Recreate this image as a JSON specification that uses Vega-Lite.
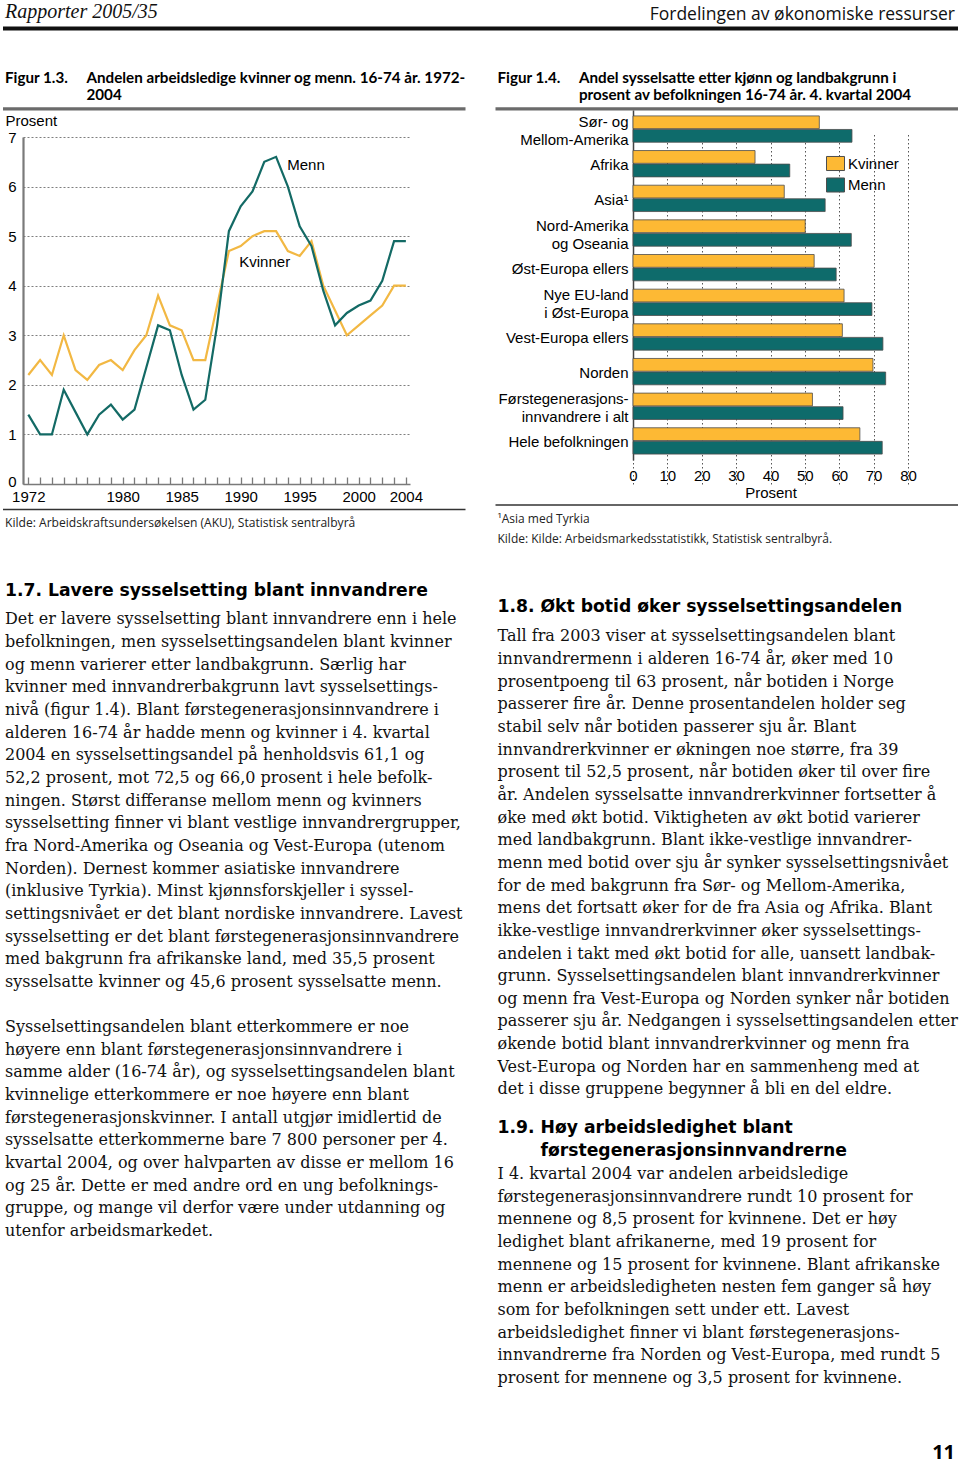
{
  "$schema": "https://vega.github.io/schema/vega-lite/v6.json",
  "padding": 0,
  "bounds": "flush",
  "spacing": 0,
  "config": {
    "view": {"stroke": null},
    "font": "Liberation Sans"
  },
  "datasets": {
    "arbeidsledige": [
      {"år": 1972, "kjønn": "Kvinner", "prosent": 2.2}, {"år": 1973, "kjønn": "Kvinner", "prosent": 2.5},
      {"år": 1974, "kjønn": "Kvinner", "prosent": 2.2}, {"år": 1975, "kjønn": "Kvinner", "prosent": 3.0},
      {"år": 1976, "kjønn": "Kvinner", "prosent": 2.3}, {"år": 1977, "kjønn": "Kvinner", "prosent": 2.1},
      {"år": 1978, "kjønn": "Kvinner", "prosent": 2.4}, {"år": 1979, "kjønn": "Kvinner", "prosent": 2.5},
      {"år": 1980, "kjønn": "Kvinner", "prosent": 2.3}, {"år": 1981, "kjønn": "Kvinner", "prosent": 2.7},
      {"år": 1982, "kjønn": "Kvinner", "prosent": 3.0}, {"år": 1983, "kjønn": "Kvinner", "prosent": 3.8},
      {"år": 1984, "kjønn": "Kvinner", "prosent": 3.2}, {"år": 1985, "kjønn": "Kvinner", "prosent": 3.1},
      {"år": 1986, "kjønn": "Kvinner", "prosent": 2.5}, {"år": 1987, "kjønn": "Kvinner", "prosent": 2.5},
      {"år": 1988, "kjønn": "Kvinner", "prosent": 3.6}, {"år": 1989, "kjønn": "Kvinner", "prosent": 4.7},
      {"år": 1990, "kjønn": "Kvinner", "prosent": 4.8}, {"år": 1991, "kjønn": "Kvinner", "prosent": 5.0},
      {"år": 1992, "kjønn": "Kvinner", "prosent": 5.1}, {"år": 1993, "kjønn": "Kvinner", "prosent": 5.1},
      {"år": 1994, "kjønn": "Kvinner", "prosent": 4.7}, {"år": 1995, "kjønn": "Kvinner", "prosent": 4.6},
      {"år": 1996, "kjønn": "Kvinner", "prosent": 4.9}, {"år": 1997, "kjønn": "Kvinner", "prosent": 4.0},
      {"år": 1998, "kjønn": "Kvinner", "prosent": 3.5}, {"år": 1999, "kjønn": "Kvinner", "prosent": 3.0},
      {"år": 2000, "kjønn": "Kvinner", "prosent": 3.2}, {"år": 2001, "kjønn": "Kvinner", "prosent": 3.4},
      {"år": 2002, "kjønn": "Kvinner", "prosent": 3.6}, {"år": 2003, "kjønn": "Kvinner", "prosent": 4.0},
      {"år": 2004, "kjønn": "Kvinner", "prosent": 4.0},
      {"år": 1972, "kjønn": "Menn", "prosent": 1.4}, {"år": 1973, "kjønn": "Menn", "prosent": 1.0},
      {"år": 1974, "kjønn": "Menn", "prosent": 1.0}, {"år": 1975, "kjønn": "Menn", "prosent": 1.9},
      {"år": 1976, "kjønn": "Menn", "prosent": 1.45}, {"år": 1977, "kjønn": "Menn", "prosent": 1.0},
      {"år": 1978, "kjønn": "Menn", "prosent": 1.4}, {"år": 1979, "kjønn": "Menn", "prosent": 1.6},
      {"år": 1980, "kjønn": "Menn", "prosent": 1.3}, {"år": 1981, "kjønn": "Menn", "prosent": 1.5},
      {"år": 1982, "kjønn": "Menn", "prosent": 2.35}, {"år": 1983, "kjønn": "Menn", "prosent": 3.2},
      {"år": 1984, "kjønn": "Menn", "prosent": 3.1}, {"år": 1985, "kjønn": "Menn", "prosent": 2.2},
      {"år": 1986, "kjønn": "Menn", "prosent": 1.5}, {"år": 1987, "kjønn": "Menn", "prosent": 1.7},
      {"år": 1988, "kjønn": "Menn", "prosent": 3.2}, {"år": 1989, "kjønn": "Menn", "prosent": 5.1},
      {"år": 1990, "kjønn": "Menn", "prosent": 5.6}, {"år": 1991, "kjønn": "Menn", "prosent": 5.9},
      {"år": 1992, "kjønn": "Menn", "prosent": 6.5}, {"år": 1993, "kjønn": "Menn", "prosent": 6.6},
      {"år": 1994, "kjønn": "Menn", "prosent": 6.0}, {"år": 1995, "kjønn": "Menn", "prosent": 5.2},
      {"år": 1996, "kjønn": "Menn", "prosent": 4.8}, {"år": 1997, "kjønn": "Menn", "prosent": 3.9},
      {"år": 1998, "kjønn": "Menn", "prosent": 3.2}, {"år": 1999, "kjønn": "Menn", "prosent": 3.45},
      {"år": 2000, "kjønn": "Menn", "prosent": 3.6}, {"år": 2001, "kjønn": "Menn", "prosent": 3.7},
      {"år": 2002, "kjønn": "Menn", "prosent": 4.1}, {"år": 2003, "kjønn": "Menn", "prosent": 4.9},
      {"år": 2004, "kjønn": "Menn", "prosent": 4.9}
    ],
    "sysselsatte": [
      {"landbakgrunn": "Sør- og Mellom-Amerika", "kjønn": "Kvinner", "prosent": 54.2},
      {"landbakgrunn": "Sør- og Mellom-Amerika", "kjønn": "Menn", "prosent": 63.7},
      {"landbakgrunn": "Afrika", "kjønn": "Kvinner", "prosent": 35.5},
      {"landbakgrunn": "Afrika", "kjønn": "Menn", "prosent": 45.6},
      {"landbakgrunn": "Asia", "kjønn": "Kvinner", "prosent": 44.0},
      {"landbakgrunn": "Asia", "kjønn": "Menn", "prosent": 55.9},
      {"landbakgrunn": "Nord-Amerika og Oseania", "kjønn": "Kvinner", "prosent": 50.1},
      {"landbakgrunn": "Nord-Amerika og Oseania", "kjønn": "Menn", "prosent": 63.5},
      {"landbakgrunn": "Øst-Europa ellers", "kjønn": "Kvinner", "prosent": 52.7},
      {"landbakgrunn": "Øst-Europa ellers", "kjønn": "Menn", "prosent": 59.1},
      {"landbakgrunn": "Nye EU-land i Øst-Europa", "kjønn": "Kvinner", "prosent": 61.4},
      {"landbakgrunn": "Nye EU-land i Øst-Europa", "kjønn": "Menn", "prosent": 69.5},
      {"landbakgrunn": "Vest-Europa ellers", "kjønn": "Kvinner", "prosent": 60.9},
      {"landbakgrunn": "Vest-Europa ellers", "kjønn": "Menn", "prosent": 72.7},
      {"landbakgrunn": "Norden", "kjønn": "Kvinner", "prosent": 69.8},
      {"landbakgrunn": "Norden", "kjønn": "Menn", "prosent": 73.5},
      {"landbakgrunn": "Førstegenerasjonsinnvandrere i alt", "kjønn": "Kvinner", "prosent": 52.2},
      {"landbakgrunn": "Førstegenerasjonsinnvandrere i alt", "kjønn": "Menn", "prosent": 61.1},
      {"landbakgrunn": "Hele befolkningen", "kjønn": "Kvinner", "prosent": 66.0},
      {"landbakgrunn": "Hele befolkningen", "kjønn": "Menn", "prosent": 72.5}
    ],
    "topp": [
      {"kolonne": "venstre", "linje": 0, "del": "topptekst", "tekst": "Rapporter 2005/35"},
      {"kolonne": "høyre", "linje": 0, "del": "topptekst", "tekst": "Fordelingen av økonomiske ressurser"},
      {"kolonne": "hele", "linje": 0, "del": "sidestrek", "tekst": ""},
      {"kolonne": "venstre", "linje": 1, "del": "figurnummer", "tekst": "Figur 1.3."},
      {"kolonne": "venstre", "linje": 1, "del": "figurtittel", "tekst": "Andelen arbeidsledige kvinner og menn. 16-74 år. 1972-"},
      {"kolonne": "venstre", "linje": 2, "del": "figurtittel", "tekst": "2004"},
      {"kolonne": "høyre", "linje": 1, "del": "figurnummer", "tekst": "Figur 1.4."},
      {"kolonne": "høyre", "linje": 1, "del": "figurtittel", "tekst": "Andel sysselsatte etter kjønn og landbakgrunn i"},
      {"kolonne": "høyre", "linje": 2, "del": "figurtittel", "tekst": "prosent av befolkningen 16-74 år. 4. kvartal 2004"},
      {"kolonne": "venstre", "linje": 3, "del": "figurstrek", "tekst": ""},
      {"kolonne": "høyre", "linje": 3, "del": "figurstrek", "tekst": ""}
    ],
    "bunn": [
      {"kolonne": "venstre", "linje": 0, "del": "strek", "tekst": ""},
      {"kolonne": "høyre", "linje": 0, "del": "strek", "tekst": ""},
      {"kolonne": "venstre", "linje": 1, "del": "kilde", "tekst": "Kilde: Arbeidskraftsundersøkelsen (AKU), Statistisk sentralbyrå"},
      {"kolonne": "høyre", "linje": 1, "del": "kilde", "tekst": "¹Asia med Tyrkia"},
      {"kolonne": "høyre", "linje": 2, "del": "kilde", "tekst": "Kilde: Kilde: Arbeidsmarkedsstatistikk, Statistisk sentralbyrå."}
    ],
    "brodtekst": [
      {"kolonne": "venstre", "linje": 0, "type": "nr", "tekst": "1.7."},
      {"kolonne": "venstre", "linje": 0, "type": "overskrift", "tekst": "Lavere sysselsetting blant innvandrere"},
      {"kolonne": "venstre", "linje": 1, "type": "avsnitt", "tekst": "Det er lavere sysselsetting blant innvandrere enn i hele"},
      {"kolonne": "venstre", "linje": 2, "type": "avsnitt", "tekst": "befolkningen, men sysselsettingsandelen blant kvinner"},
      {"kolonne": "venstre", "linje": 3, "type": "avsnitt", "tekst": "og menn varierer etter landbakgrunn. Særlig har"},
      {"kolonne": "venstre", "linje": 4, "type": "avsnitt", "tekst": "kvinner med innvandrerbakgrunn lavt sysselsettings-"},
      {"kolonne": "venstre", "linje": 5, "type": "avsnitt", "tekst": "nivå (figur 1.4). Blant førstegenerasjonsinnvandrere i"},
      {"kolonne": "venstre", "linje": 6, "type": "avsnitt", "tekst": "alderen 16-74 år hadde menn og kvinner i 4. kvartal"},
      {"kolonne": "venstre", "linje": 7, "type": "avsnitt", "tekst": "2004 en sysselsettingsandel på henholdsvis 61,1 og"},
      {"kolonne": "venstre", "linje": 8, "type": "avsnitt", "tekst": "52,2 prosent, mot 72,5 og 66,0 prosent i hele befolk-"},
      {"kolonne": "venstre", "linje": 9, "type": "avsnitt", "tekst": "ningen. Størst differanse mellom menn og kvinners"},
      {"kolonne": "venstre", "linje": 10, "type": "avsnitt", "tekst": "sysselsetting finner vi blant vestlige innvandrergrupper,"},
      {"kolonne": "venstre", "linje": 11, "type": "avsnitt", "tekst": "fra Nord-Amerika og Oseania og Vest-Europa (utenom"},
      {"kolonne": "venstre", "linje": 12, "type": "avsnitt", "tekst": "Norden). Dernest kommer asiatiske innvandrere"},
      {"kolonne": "venstre", "linje": 13, "type": "avsnitt", "tekst": "(inklusive Tyrkia). Minst kjønnsforskjeller i syssel-"},
      {"kolonne": "venstre", "linje": 14, "type": "avsnitt", "tekst": "settingsnivået er det blant nordiske innvandrere. Lavest"},
      {"kolonne": "venstre", "linje": 15, "type": "avsnitt", "tekst": "sysselsetting er det blant førstegenerasjonsinnvandrere"},
      {"kolonne": "venstre", "linje": 16, "type": "avsnitt", "tekst": "med bakgrunn fra afrikanske land, med 35,5 prosent"},
      {"kolonne": "venstre", "linje": 17, "type": "avsnitt", "tekst": "sysselsatte kvinner og 45,6 prosent sysselsatte menn."},
      {"kolonne": "venstre", "linje": 19, "type": "avsnitt", "tekst": "Sysselsettingsandelen blant etterkommere er noe"},
      {"kolonne": "venstre", "linje": 20, "type": "avsnitt", "tekst": "høyere enn blant førstegenerasjonsinnvandrere i"},
      {"kolonne": "venstre", "linje": 21, "type": "avsnitt", "tekst": "samme alder (16-74 år), og sysselsettingsandelen blant"},
      {"kolonne": "venstre", "linje": 22, "type": "avsnitt", "tekst": "kvinnelige etterkommere er noe høyere enn blant"},
      {"kolonne": "venstre", "linje": 23, "type": "avsnitt", "tekst": "førstegenerasjonskvinner. I antall utgjør imidlertid de"},
      {"kolonne": "venstre", "linje": 24, "type": "avsnitt", "tekst": "sysselsatte etterkommerne bare 7 800 personer per 4."},
      {"kolonne": "venstre", "linje": 25, "type": "avsnitt", "tekst": "kvartal 2004, og over halvparten av disse er mellom 16"},
      {"kolonne": "venstre", "linje": 26, "type": "avsnitt", "tekst": "og 25 år. Dette er med andre ord en ung befolknings-"},
      {"kolonne": "venstre", "linje": 27, "type": "avsnitt", "tekst": "gruppe, og mange vil derfor være under utdanning og"},
      {"kolonne": "venstre", "linje": 28, "type": "avsnitt", "tekst": "utenfor arbeidsmarkedet."},
      {"kolonne": "høyre", "linje": 0, "type": "nr", "tekst": "1.8."},
      {"kolonne": "høyre", "linje": 0, "type": "overskrift", "tekst": "Økt botid øker sysselsettingsandelen"},
      {"kolonne": "høyre", "linje": 1, "type": "avsnitt", "tekst": "Tall fra 2003 viser at sysselsettingsandelen blant"},
      {"kolonne": "høyre", "linje": 2, "type": "avsnitt", "tekst": "innvandrermenn i alderen 16-74 år, øker med 10"},
      {"kolonne": "høyre", "linje": 3, "type": "avsnitt", "tekst": "prosentpoeng til 63 prosent, når botiden i Norge"},
      {"kolonne": "høyre", "linje": 4, "type": "avsnitt", "tekst": "passerer fire år. Denne prosentandelen holder seg"},
      {"kolonne": "høyre", "linje": 5, "type": "avsnitt", "tekst": "stabil selv når botiden passerer sju år. Blant"},
      {"kolonne": "høyre", "linje": 6, "type": "avsnitt", "tekst": "innvandrerkvinner er økningen noe større, fra 39"},
      {"kolonne": "høyre", "linje": 7, "type": "avsnitt", "tekst": "prosent til 52,5 prosent, når botiden øker til over fire"},
      {"kolonne": "høyre", "linje": 8, "type": "avsnitt", "tekst": "år. Andelen sysselsatte innvandrerkvinner fortsetter å"},
      {"kolonne": "høyre", "linje": 9, "type": "avsnitt", "tekst": "øke med økt botid. Viktigheten av økt botid varierer"},
      {"kolonne": "høyre", "linje": 10, "type": "avsnitt", "tekst": "med landbakgrunn. Blant ikke-vestlige innvandrer-"},
      {"kolonne": "høyre", "linje": 11, "type": "avsnitt", "tekst": "menn med botid over sju år synker sysselsettingsnivået"},
      {"kolonne": "høyre", "linje": 12, "type": "avsnitt", "tekst": "for de med bakgrunn fra Sør- og Mellom-Amerika,"},
      {"kolonne": "høyre", "linje": 13, "type": "avsnitt", "tekst": "mens det fortsatt øker for de fra Asia og Afrika. Blant"},
      {"kolonne": "høyre", "linje": 14, "type": "avsnitt", "tekst": "ikke-vestlige innvandrerkvinner øker sysselsettings-"},
      {"kolonne": "høyre", "linje": 15, "type": "avsnitt", "tekst": "andelen i takt med økt botid for alle, uansett landbak-"},
      {"kolonne": "høyre", "linje": 16, "type": "avsnitt", "tekst": "grunn. Sysselsettingsandelen blant innvandrerkvinner"},
      {"kolonne": "høyre", "linje": 17, "type": "avsnitt", "tekst": "og menn fra Vest-Europa og Norden synker når botiden"},
      {"kolonne": "høyre", "linje": 18, "type": "avsnitt", "tekst": "passerer sju år. Nedgangen i sysselsettingsandelen etter"},
      {"kolonne": "høyre", "linje": 19, "type": "avsnitt", "tekst": "økende botid blant innvandrerkvinner og menn fra"},
      {"kolonne": "høyre", "linje": 20, "type": "avsnitt", "tekst": "Vest-Europa og Norden har en sammenheng med at"},
      {"kolonne": "høyre", "linje": 21, "type": "avsnitt", "tekst": "det i disse gruppene begynner å bli en del eldre."},
      {"kolonne": "høyre", "linje": 23, "type": "nr", "tekst": "1.9."},
      {"kolonne": "høyre", "linje": 23, "type": "overskrift", "tekst": "Høy arbeidsledighet blant"},
      {"kolonne": "høyre", "linje": 24, "type": "overskrift", "tekst": "førstegenerasjonsinnvandrerne"},
      {"kolonne": "høyre", "linje": 25, "type": "avsnitt", "tekst": "I 4. kvartal 2004 var andelen arbeidsledige"},
      {"kolonne": "høyre", "linje": 26, "type": "avsnitt", "tekst": "førstegenerasjonsinnvandrere rundt 10 prosent for"},
      {"kolonne": "høyre", "linje": 27, "type": "avsnitt", "tekst": "mennene og 8,5 prosent for kvinnene. Det er høy"},
      {"kolonne": "høyre", "linje": 28, "type": "avsnitt", "tekst": "ledighet blant afrikanerne, med 19 prosent for"},
      {"kolonne": "høyre", "linje": 29, "type": "avsnitt", "tekst": "mennene og 15 prosent for kvinnene. Blant afrikanske"},
      {"kolonne": "høyre", "linje": 30, "type": "avsnitt", "tekst": "menn er arbeidsledigheten nesten fem ganger så høy"},
      {"kolonne": "høyre", "linje": 31, "type": "avsnitt", "tekst": "som for befolkningen sett under ett. Lavest"},
      {"kolonne": "høyre", "linje": 32, "type": "avsnitt", "tekst": "arbeidsledighet finner vi blant førstegenerasjons-"},
      {"kolonne": "høyre", "linje": 33, "type": "avsnitt", "tekst": "innvandrerne fra Norden og Vest-Europa, med rundt 5"},
      {"kolonne": "høyre", "linje": 34, "type": "avsnitt", "tekst": "prosent for mennene og 3,5 prosent for kvinnene."}
    ]
  },
  "vconcat": [
    {
      "width": 960,
      "height": 110,
      "data": {"name": "topp"},
      "resolve": {"scale": {"x": "independent", "y": "independent"}},
      "layer": [
        {
          "transform": [{"filter": "datum.del == 'topptekst' && datum.kolonne == 'venstre'"}],
          "mark": {"type": "text", "align": "left", "baseline": "alphabetic", "dx": 2, "font": "Liberation Serif", "fontStyle": "italic", "fontSize": 20, "color": "#111"},
          "encoding": {
            "x": {"field": "kolonne", "type": "nominal", "bandPosition": 0, "scale": {"type": "band", "domain": ["venstre", "høyre"], "range": [3, 958], "paddingInner": 0.0609, "paddingOuter": 0}, "axis": null},
            "y": {"field": "linje", "type": "quantitative", "scale": {"domain": [0, 1], "range": [18.3, 19.3]}, "axis": null},
            "text": {"field": "tekst"}
          }
        },
        {
          "transform": [{"filter": "datum.del == 'topptekst' && datum.kolonne == 'høyre'"}],
          "mark": {"type": "text", "align": "right", "baseline": "alphabetic", "dx": -3, "font": "Open Sans", "fontSize": 17.5, "color": "#111"},
          "encoding": {
            "x": {"field": "kolonne", "type": "nominal", "bandPosition": 1, "scale": {"type": "band", "domain": ["venstre", "høyre"], "range": [3, 958], "paddingInner": 0.0609, "paddingOuter": 0}, "axis": null},
            "y": {"field": "linje", "type": "quantitative", "scale": {"domain": [0, 1], "range": [19.5, 20.5]}, "axis": null},
            "text": {"field": "tekst"}
          }
        },
        {
          "transform": [{"filter": "datum.del == 'sidestrek'"}],
          "mark": {"type": "tick", "orient": "horizontal", "size": 955, "thickness": 4, "color": "#111", "opacity": 1},
          "encoding": {
            "x": {"field": "kolonne", "type": "nominal", "bandPosition": 0.5, "scale": {"type": "band", "domain": ["hele"], "range": [3, 958], "paddingInner": 0, "paddingOuter": 0}, "axis": null},
            "y": {"field": "linje", "type": "quantitative", "scale": {"domain": [0, 1], "range": [28.6, 29.6]}, "axis": null}
          }
        },
        {
          "transform": [{"filter": "datum.del == 'figurnummer'"}],
          "mark": {"type": "text", "align": "left", "baseline": "alphabetic", "dx": 2, "font": "Lato", "fontWeight": "bold", "fontSize": 15.2, "color": "#000"},
          "encoding": {
            "x": {"field": "kolonne", "type": "nominal", "bandPosition": 0, "scale": {"type": "band", "domain": ["venstre", "høyre"], "range": [3, 958], "paddingInner": 0.0609, "paddingOuter": 0}, "axis": null},
            "y": {"field": "linje", "type": "quantitative", "scale": {"domain": [1, 2], "range": [82.7, 100.2]}, "axis": null},
            "text": {"field": "tekst"}
          }
        },
        {
          "transform": [{"filter": "datum.del == 'figurtittel'"}],
          "mark": {"type": "text", "align": "left", "baseline": "alphabetic", "dx": 83.5, "font": "Lato", "fontWeight": "bold", "fontSize": 15.2, "color": "#000"},
          "encoding": {
            "x": {"field": "kolonne", "type": "nominal", "bandPosition": 0, "scale": {"type": "band", "domain": ["venstre", "høyre"], "range": [3, 958], "paddingInner": 0.0609, "paddingOuter": 0}, "axis": null},
            "y": {"field": "linje", "type": "quantitative", "scale": {"domain": [1, 2], "range": [82.7, 100.2]}, "axis": null},
            "text": {"field": "tekst"}
          }
        },
        {
          "transform": [{"filter": "datum.del == 'figurstrek'"}],
          "mark": {"type": "tick", "orient": "horizontal", "size": 462.5, "thickness": 3.2, "color": "#6b6b6b", "opacity": 1},
          "encoding": {
            "x": {"field": "kolonne", "type": "nominal", "bandPosition": 0.5, "scale": {"type": "band", "domain": ["venstre", "høyre"], "range": [3, 958], "paddingInner": 0.0609, "paddingOuter": 0}, "axis": null},
            "y": {"field": "linje", "type": "quantitative", "scale": {"domain": [3, 4], "range": [108.8, 109.8]}, "axis": null}
          }
        }
      ]
    },
    {
      "width": 960,
      "height": 374,
      "resolve": {
        "scale": {"x": "independent", "y": "independent", "color": "independent"},
        "axis": {"x": "independent", "y": "independent"},
        "legend": {"color": "independent"}
      },
      "layer": [
        {
          "data": {"name": "arbeidsledige"},
          "mark": {"type": "line", "strokeWidth": 2.2},
          "encoding": {
            "x": {
              "field": "år", "type": "quantitative",
              "scale": {"domain": [1971.55, 2004.35], "range": [23, 410], "nice": false, "zero": false},
              "axis": {
                "orient": "bottom", "values": [1972, 1973, 1974, 1975, 1976, 1977, 1978, 1979, 1980, 1981, 1982, 1983, 1984, 1985, 1986, 1987, 1988, 1989, 1990, 1991, 1992, 1993, 1994, 1995, 1996, 1997, 1998, 1999, 2000, 2001, 2002, 2003, 2004],
                "format": "d",
                "labelExpr": "indexof([1972, 1980, 1985, 1990, 1995, 2000, 2004], datum.value) >= 0 ? datum.label : ''",
                "tickSize": -7, "tickColor": "#7a7a7a", "tickWidth": 1.3,
                "domainColor": "#7a7a7a", "domainWidth": 1.6,
                "labelPadding": 12.7, "labelFont": "Liberation Sans", "labelFontSize": 15, "labelColor": "#000",
                "labelOverlap": false, "labelFlush": false, "grid": false, "title": null
              }
            },
            "y": {
              "field": "prosent", "type": "quantitative",
              "scale": {"domain": [0, 7], "range": [374, 27], "nice": false},
              "axis": {
                "orient": "left", "offset": -23, "values": [0, 1, 2, 3, 4, 5, 6, 7],
                "grid": true, "gridDash": [2, 2], "gridColor": "#7f7f7f", "gridWidth": 1,
                "domainColor": "#7a7a7a", "domainWidth": 2.2, "ticks": false, "tickSize": 0,
                "labelPadding": 7, "labelFont": "Liberation Sans", "labelFontSize": 15, "labelColor": "#000",
                "labelOffset": {"condition": {"test": "datum.value == 0", "value": -3}, "value": 0},
                "title": "Prosent", "titleAngle": 0, "titleAlign": "left", "titleBaseline": "alphabetic",
                "titleX": -18, "titleY": 15, "titleFont": "Liberation Sans", "titleFontSize": 15,
                "titleFontWeight": "normal", "titleColor": "#000"
              }
            },
            "color": {"field": "kjønn", "type": "nominal", "scale": {"domain": ["Kvinner", "Menn"], "range": ["#F2B843", "#136A65"]}, "legend": null}
          }
        },
        {
          "data": {"name": "arbeidsledige"},
          "transform": [{"filter": "datum['kjønn'] == 'Menn' && datum['år'] == 1993"}],
          "mark": {"type": "text", "align": "left", "baseline": "alphabetic", "dx": 11.2, "dy": 13.2, "font": "Liberation Sans", "fontSize": 15, "color": "#000"},
          "encoding": {
            "x": {"field": "år", "type": "quantitative", "scale": {"domain": [1971.55, 2004.35], "range": [23, 410], "nice": false, "zero": false}, "axis": null},
            "y": {"field": "prosent", "type": "quantitative", "scale": {"domain": [0, 7], "range": [374, 27], "nice": false}, "axis": null},
            "text": {"field": "kjønn"}
          }
        },
        {
          "data": {"name": "arbeidsledige"},
          "transform": [{"filter": "datum['kjønn'] == 'Kvinner' && datum['år'] == 1990"}],
          "mark": {"type": "text", "align": "left", "baseline": "alphabetic", "dx": -1.4, "dy": 20.6, "font": "Liberation Sans", "fontSize": 15, "color": "#000"},
          "encoding": {
            "x": {"field": "år", "type": "quantitative", "scale": {"domain": [1971.55, 2004.35], "range": [23, 410], "nice": false, "zero": false}, "axis": null},
            "y": {"field": "prosent", "type": "quantitative", "scale": {"domain": [0, 7], "range": [374, 27], "nice": false}, "axis": null},
            "text": {"field": "kjønn"}
          }
        },
        {
          "data": {"name": "sysselsatte"},
          "mark": {"type": "bar", "stroke": "#4d4d4d", "strokeWidth": 0.8},
          "encoding": {
            "y": {
              "field": "landbakgrunn", "type": "nominal", "sort": null,
              "scale": {"range": [0, 350], "paddingInner": 0.24, "paddingOuter": 0.17},
              "axis": {
                "orient": "left", "offset": -633, "title": null, "ticks": false, "tickSize": 0,
                "domainColor": "#444", "domainWidth": 1.5,
                "labelPadding": 5, "labelFont": "Liberation Sans", "labelFontSize": 15, "labelColor": "#000",
                "labelLineHeight": 18, "labelLimit": 300, "labelOverlap": false,
                "labelOffset": {"condition": {"test": "indexof(['Sør- og Mellom-Amerika', 'Nord-Amerika og Oseania', 'Nye EU-land i Øst-Europa', 'Førstegenerasjonsinnvandrere i alt'], datum.value) >= 0", "value": -7.5}, "value": 1.5},
                "labelExpr": "datum.value == 'Sør- og Mellom-Amerika' ? ['Sør- og', 'Mellom-Amerika'] : datum.value == 'Nord-Amerika og Oseania' ? ['Nord-Amerika', 'og Oseania'] : datum.value == 'Nye EU-land i Øst-Europa' ? ['Nye EU-land', 'i Øst-Europa'] : datum.value == 'Førstegenerasjonsinnvandrere i alt' ? ['Førstegenerasjons-', 'innvandrere i alt'] : datum.value == 'Asia' ? 'Asia¹' : datum.label"
              }
            },
            "yOffset": {"field": "kjønn", "type": "nominal", "sort": ["Kvinner", "Menn"], "scale": {"paddingInner": 0.06}},
            "x": {
              "field": "prosent", "type": "quantitative",
              "scale": {"domain": [0, 80], "range": [633, 908], "nice": false},
              "axis": {
                "orient": "bottom", "offset": -24, "values": [0, 10, 20, 30, 40, 50, 60, 70, 80],
                "grid": true, "gridDash": [1.5, 2.5], "gridColor": "#555", "gridWidth": 1,
                "domain": false, "ticks": false, "tickSize": 0, "labelFlush": false,
                "labelPadding": 8, "labelFont": "Liberation Sans", "labelFontSize": 15, "labelColor": "#000",
                "title": "Prosent", "titlePadding": 2, "titleFont": "Liberation Sans", "titleFontSize": 15,
                "titleFontWeight": "normal", "titleColor": "#000"
              }
            },
            "color": {
              "field": "kjønn", "type": "nominal",
              "scale": {"domain": ["Kvinner", "Menn"], "range": ["#FDB934", "#0E6B6B"]},
              "legend": {
                "orient": "none", "legendX": 826, "legendY": 44, "title": null, "direction": "vertical",
                "symbolType": "M-1,-0.78H1V0.78H-1Z", "symbolSize": 324, "symbolStrokeColor": "#4d4d4d", "symbolStrokeWidth": 1,
                "labelFont": "Liberation Sans", "labelFontSize": 15, "labelColor": "#000", "labelOffset": 3,
                "rowPadding": 2.5, "padding": 0
              }
            }
          }
        }
      ]
    },
    {
      "width": 960,
      "height": 981,
      "title": {"text": "11", "orient": "bottom", "anchor": "end", "frame": "group", "offset": -22, "dx": -5, "font": "Open Sans", "fontSize": 20, "fontWeight": "bold", "color": "#000"},
      "resolve": {"scale": {"x": "independent", "y": "independent"}},
      "layer": [
        {
          "data": {"name": "bunn"},
          "transform": [{"filter": "datum.del == 'strek'"}],
          "mark": {"type": "tick", "orient": "horizontal", "size": 462.5, "thickness": 1.3, "color": "#333", "opacity": 1},
          "encoding": {
            "x": {"field": "kolonne", "type": "nominal", "bandPosition": 0.5, "scale": {"type": "band", "domain": ["venstre", "høyre"], "range": [3, 958], "paddingInner": 0.0609, "paddingOuter": 0}, "axis": null},
            "y": {"field": "kolonne", "type": "nominal", "scale": {"type": "point", "domain": ["venstre", "høyre"], "range": [25.5, 21], "padding": 0}, "axis": null}
          }
        },
        {
          "data": {"name": "bunn"},
          "transform": [{"filter": "datum.del == 'kilde' && datum.kolonne == 'venstre'"}],
          "mark": {"type": "text", "align": "left", "baseline": "alphabetic", "dx": 2, "font": "Open Sans", "fontSize": 12.1, "color": "#222"},
          "encoding": {
            "x": {"field": "kolonne", "type": "nominal", "bandPosition": 0, "scale": {"type": "band", "domain": ["venstre", "høyre"], "range": [3, 958], "paddingInner": 0.0609, "paddingOuter": 0}, "axis": null},
            "y": {"field": "linje", "type": "quantitative", "scale": {"domain": [1, 2], "range": [43.3, 63.3]}, "axis": null},
            "text": {"field": "tekst"}
          }
        },
        {
          "data": {"name": "bunn"},
          "transform": [{"filter": "datum.del == 'kilde' && datum.kolonne == 'høyre'"}],
          "mark": {"type": "text", "align": "left", "baseline": "alphabetic", "dx": 2, "font": "Open Sans", "fontSize": 12, "color": "#222"},
          "encoding": {
            "x": {"field": "kolonne", "type": "nominal", "bandPosition": 0, "scale": {"type": "band", "domain": ["venstre", "høyre"], "range": [3, 958], "paddingInner": 0.0609, "paddingOuter": 0}, "axis": null},
            "y": {"field": "linje", "type": "quantitative", "scale": {"domain": [1, 2], "range": [39.3, 59.3]}, "axis": null},
            "text": {"field": "tekst"}
          }
        },
        {
          "data": {"name": "brodtekst"},
          "transform": [{"filter": "datum.type == 'nr' && datum.kolonne == 'venstre'"}],
          "mark": {"type": "text", "align": "left", "baseline": "alphabetic", "dx": 2, "dy": -6, "font": "DejaVu Sans", "fontWeight": "bold", "fontSize": 17.2, "color": "#000"},
          "encoding": {
            "x": {"field": "kolonne", "type": "nominal", "bandPosition": 0, "scale": {"type": "band", "domain": ["venstre", "høyre"], "range": [3, 958], "paddingInner": 0.0609, "paddingOuter": 0}, "axis": null},
            "y": {"field": "linje", "type": "quantitative", "scale": {"domain": [0, 40], "range": [117.6, 1024]}, "axis": null},
            "text": {"field": "tekst"}
          }
        },
        {
          "data": {"name": "brodtekst"},
          "transform": [{"filter": "datum.type == 'overskrift' && datum.kolonne == 'venstre'"}],
          "mark": {"type": "text", "align": "left", "baseline": "alphabetic", "dx": 45, "dy": -6, "font": "DejaVu Sans", "fontWeight": "bold", "fontSize": 17.2, "color": "#000"},
          "encoding": {
            "x": {"field": "kolonne", "type": "nominal", "bandPosition": 0, "scale": {"type": "band", "domain": ["venstre", "høyre"], "range": [3, 958], "paddingInner": 0.0609, "paddingOuter": 0}, "axis": null},
            "y": {"field": "linje", "type": "quantitative", "scale": {"domain": [0, 40], "range": [117.6, 1024]}, "axis": null},
            "text": {"field": "tekst"}
          }
        },
        {
          "data": {"name": "brodtekst"},
          "transform": [{"filter": "datum.type == 'nr' && datum.kolonne == 'høyre'"}],
          "mark": {"type": "text", "align": "left", "baseline": "alphabetic", "dx": 2, "dy": 10.5, "font": "DejaVu Sans", "fontWeight": "bold", "fontSize": 17.2, "color": "#000"},
          "encoding": {
            "x": {"field": "kolonne", "type": "nominal", "bandPosition": 0, "scale": {"type": "band", "domain": ["venstre", "høyre"], "range": [3, 958], "paddingInner": 0.0609, "paddingOuter": 0}, "axis": null},
            "y": {"field": "linje", "type": "quantitative", "scale": {"domain": [0, 40], "range": [117.6, 1024]}, "axis": null},
            "text": {"field": "tekst"}
          }
        },
        {
          "data": {"name": "brodtekst"},
          "transform": [{"filter": "datum.type == 'overskrift' && datum.kolonne == 'høyre'"}],
          "mark": {"type": "text", "align": "left", "baseline": "alphabetic", "dx": 45, "dy": 10.5, "font": "DejaVu Sans", "fontWeight": "bold", "fontSize": 17.2, "color": "#000"},
          "encoding": {
            "x": {"field": "kolonne", "type": "nominal", "bandPosition": 0, "scale": {"type": "band", "domain": ["venstre", "høyre"], "range": [3, 958], "paddingInner": 0.0609, "paddingOuter": 0}, "axis": null},
            "y": {"field": "linje", "type": "quantitative", "scale": {"domain": [0, 40], "range": [117.6, 1024]}, "axis": null},
            "text": {"field": "tekst"}
          }
        },
        {
          "data": {"name": "brodtekst"},
          "transform": [{"filter": "datum.type == 'avsnitt' && datum.kolonne == 'venstre'"}],
          "mark": {"type": "text", "align": "left", "baseline": "alphabetic", "dx": 2, "dy": 0, "font": "DejaVu Serif", "fontSize": 16, "color": "#111"},
          "encoding": {
            "x": {"field": "kolonne", "type": "nominal", "bandPosition": 0, "scale": {"type": "band", "domain": ["venstre", "høyre"], "range": [3, 958], "paddingInner": 0.0609, "paddingOuter": 0}, "axis": null},
            "y": {"field": "linje", "type": "quantitative", "scale": {"domain": [0, 40], "range": [117.6, 1024]}, "axis": null},
            "text": {"field": "tekst"}
          }
        },
        {
          "data": {"name": "brodtekst"},
          "transform": [{"filter": "datum.type == 'avsnitt' && datum.kolonne == 'høyre' && datum.linje <= 21"}],
          "mark": {"type": "text", "align": "left", "baseline": "alphabetic", "dx": 2, "dy": 17, "font": "DejaVu Serif", "fontSize": 16, "color": "#111"},
          "encoding": {
            "x": {"field": "kolonne", "type": "nominal", "bandPosition": 0, "scale": {"type": "band", "domain": ["venstre", "høyre"], "range": [3, 958], "paddingInner": 0.0609, "paddingOuter": 0}, "axis": null},
            "y": {"field": "linje", "type": "quantitative", "scale": {"domain": [0, 40], "range": [117.6, 1024]}, "axis": null},
            "text": {"field": "tekst"}
          }
        },
        {
          "data": {"name": "brodtekst"},
          "transform": [{"filter": "datum.type == 'avsnitt' && datum.kolonne == 'høyre' && datum.linje >= 25"}],
          "mark": {"type": "text", "align": "left", "baseline": "alphabetic", "dx": 2, "dy": 10.9, "font": "DejaVu Serif", "fontSize": 16, "color": "#111"},
          "encoding": {
            "x": {"field": "kolonne", "type": "nominal", "bandPosition": 0, "scale": {"type": "band", "domain": ["venstre", "høyre"], "range": [3, 958], "paddingInner": 0.0609, "paddingOuter": 0}, "axis": null},
            "y": {"field": "linje", "type": "quantitative", "scale": {"domain": [0, 40], "range": [117.6, 1024]}, "axis": null},
            "text": {"field": "tekst"}
          }
        }
      ]
    }
  ]
}
